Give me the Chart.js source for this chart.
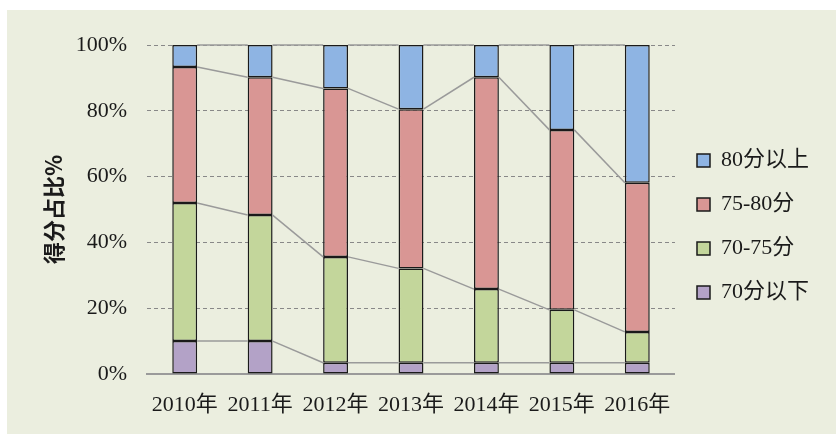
<!DOCTYPE html>
<html>
<head>
<meta charset="utf-8">
<script src="https://cdn.jsdelivr.net/npm/chart.js@4"></script>
<style>
  html, body { margin: 0; padding: 0; background: #fff; }
  #wrap { position: absolute; left: 7px; top: 10px; width: 829px; height: 424px; background: #ebeedf; }
</style>
</head>
<body>
<div id="wrap"><canvas id="scoreChart"></canvas></div>
<script>
// 年份
const years = ['2010年', '2011年', '2012年', '2013年', '2014年', '2015年', '2016年'];
// 各分数段占比 (%)
const below70 = [10, 10, 3.4, 3.4, 3.4, 3.4, 3.4];
const s70to75 = [42, 38.3, 32.2, 28.7, 22.4, 16.1, 9.4];
const s75to80 = [41.3, 41.9, 51.2, 48.4, 64.4, 54.7, 45.3];
const above80 = [6.7, 9.8, 13.2, 19.5, 9.8, 25.8, 41.9];
const yTicks = [0, 20, 40, 60, 80, 100];

const serif = '"Liberation Serif", "Times New Roman", "Noto Sans CJK SC", serif';

// 系列线: connects segment tops between neighbouring bars
const seriesLines = {
  id: 'seriesLines',
  afterDatasetsDraw(chart) {
    const ctx = chart.ctx;
    ctx.save();
    ctx.strokeStyle = '#9a9a9a';
    ctx.lineWidth = 1.5;
    chart.data.datasets.forEach((ds, di) => {
      const bars = chart.getDatasetMeta(di).data;
      for (let i = 0; i < bars.length - 1; i++) {
        const a = bars[i], b = bars[i + 1];
        ctx.beginPath();
        ctx.moveTo(a.x + a.width / 2, a.y);
        ctx.lineTo(b.x - b.width / 2, b.y);
        ctx.stroke();
      }
    });
    ctx.restore();
  }
};

// nudge the legend block up a little
const legendShift = {
  id: 'legendShift',
  afterLayout(chart) {
    if (chart.legend) {
      chart.legend.top -= 13;
      chart.legend.bottom -= 13;
    }
  }
};

function bar(label, data, color) {
  return {
    label: label,
    data: data,
    backgroundColor: color,
    borderColor: '#1a1a1a',
    borderWidth: 1.5,
    borderSkipped: false,
    barPercentage: 0.33,
    categoryPercentage: 1
  };
}

new Chart(document.getElementById('scoreChart').getContext('2d'), {
  type: 'bar',
  data: {
    labels: years,
    datasets: [
      bar('70分以下', below70, '#b3a2c7'),
      bar('70-75分', s70to75, '#c3d69b'),
      bar('75-80分', s75to80, '#d99694'),
      bar('80分以上', above80, '#8eb4e3')
    ]
  },
  options: {
    responsive: true,
    maintainAspectRatio: false,
    animation: false,
    layout: { padding: { left: 29, top: 35, right: 17, bottom: 0 } },
    scales: {
      x: {
        stacked: true,
        grid: { display: false },
        border: { color: '#9a9a9a', width: 2 },
        ticks: { color: '#1a1a1a', padding: 10, font: { family: serif, size: 22 } },
        afterFit: s => { s.height = 60; }
      },
      y: {
        stacked: true,
        min: 0,
        max: 100,
        afterBuildTicks: s => { s.ticks = yTicks.map(v => ({ value: v })); },
        grid: { color: '#888', lineWidth: 1, drawTicks: false },
        border: { display: false, dash: [4, 3] },
        ticks: { color: '#1a1a1a', padding: 20, font: { family: serif, size: 22 }, callback: v => v + '%' },
        title: {
          display: true,
          text: '得分占比%',
          color: '#1a1a1a',
          font: { family: '"Noto Sans CJK SC", sans-serif', size: 22, weight: 'bold' }
        },
        afterFit: s => { s.width = 111; }
      }
    },
    plugins: {
      legend: {
        position: 'right',
        reverse: true,
        labels: {
          boxWidth: 13,
          boxHeight: 13,
          padding: 22,
          color: '#1a1a1a',
          font: { family: serif, size: 22 }
        }
      },
      tooltip: { enabled: false }
    }
  },
  plugins: [seriesLines, legendShift]
});
</script>
</body>
</html>
